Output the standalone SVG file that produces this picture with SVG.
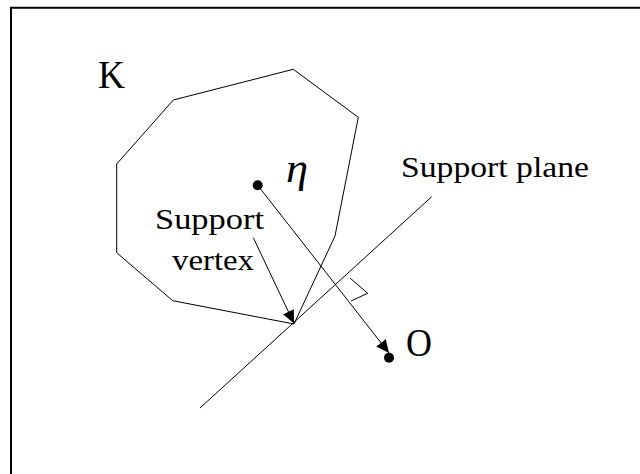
<svg xmlns="http://www.w3.org/2000/svg" width="640" height="474" viewBox="0 0 640 474">
<style>
.ln{fill:none;stroke:#000;stroke-width:1}
.t{font-family:"Liberation Serif","Times New Roman",serif;fill:#000}
.lbl{font-size:30px}
.frame{fill:none;stroke:#000;stroke-width:2}
</style>
<defs>
<marker id="ah" viewBox="0 0 13 12" refX="13" refY="6" markerWidth="13" markerHeight="12" markerUnits="userSpaceOnUse" orient="auto">
<path d="M0,0 L13,6 L0,12 z" fill="#000"/>
</marker>
</defs>
<rect width="640" height="474" fill="#fff"/>
<path class="frame" d="M11,474 L11,7.7 L640,7.7"/>
<g id="K">
<polygon class="ln" points="293.3,69.3 358.3,117.3 335,236 294,324 172.7,300.7 116.7,252.7 116.7,164 173.3,100"/>
<text class="t" x="98" y="88" font-size="39" textLength="27" lengthAdjust="spacingAndGlyphs">K</text>
</g>
<g id="eta">
<circle cx="257.7" cy="185.3" r="5" fill="#000"/>
<text class="t" x="286" y="182" font-size="42" font-style="italic" textLength="22" lengthAdjust="spacingAndGlyphs">η</text>
</g>
<g id="O">
<circle cx="389" cy="357.7" r="5" fill="#000"/>
<text class="t" x="406" y="356" font-size="39" textLength="26" lengthAdjust="spacingAndGlyphs">O</text>
</g>
<g id="support-plane">
<line class="ln" x1="431.7" y1="196.7" x2="200" y2="408"/>
<text class="t lbl" x="401" y="177" textLength="188" lengthAdjust="spacingAndGlyphs">Support plane</text>
</g>
<g id="support-vertex">
<text class="t lbl" x="155" y="229" textLength="109" lengthAdjust="spacingAndGlyphs">Support</text>
<text class="t lbl" x="172" y="270" textLength="82" lengthAdjust="spacingAndGlyphs">vertex</text>
</g>
<g id="connectors">
<line class="ln" x1="257.7" y1="185.3" x2="389" y2="353" marker-end="url(#ah)"/>
<line class="ln" x1="253.3" y1="237.7" x2="294" y2="323.5" marker-end="url(#ah)"/>
<polyline class="ln" points="350,278 367.7,293.3 351,301"/>
</g>
</svg>
